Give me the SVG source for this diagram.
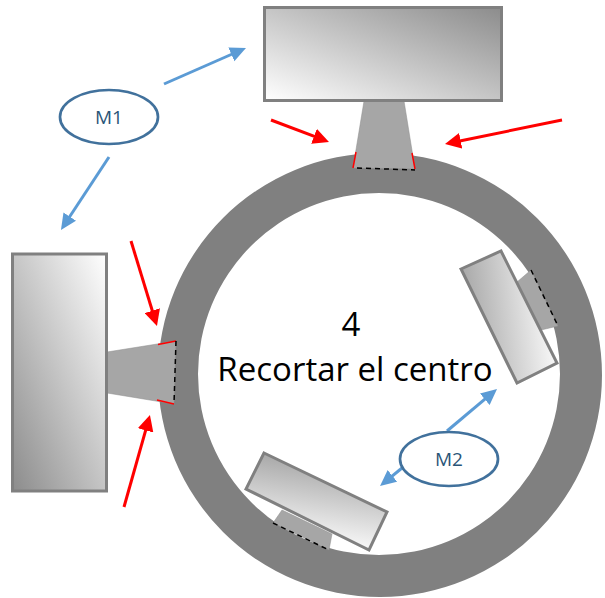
<svg xmlns="http://www.w3.org/2000/svg" width="605" height="598" viewBox="0 0 605 598">
<style>
.block{stroke:#808080;stroke-width:3}
.neck{fill:#a6a6a6;stroke:#8c8c8c;stroke-width:.5}
.cut{fill:none;stroke:#000;stroke-width:1.5;stroke-dasharray:5 4}
.edge{fill:none;stroke:#ff0000;stroke-width:1.5}
.red{fill:none;stroke:#ff0000;stroke-width:3;marker-end:url(#ra)}
.blue{fill:none;stroke:#5b9bd5;stroke-width:3;marker-end:url(#ba)}
.motor{fill:#fff;stroke:#41719c;stroke-width:2.700}
.ml{font-family:"Open Sans","Liberation Sans",sans-serif;font-size:19px;fill:#2a5578;text-anchor:middle}
.big{font-family:"Open Sans","Liberation Sans",sans-serif;font-size:33px;fill:#000;text-anchor:middle}
</style>
<defs>
<linearGradient id="gTop" x1="0" y1="1" x2="1" y2="0"><stop offset="0" stop-color="#fff"/><stop offset="1" stop-color="#8c8c8c"/></linearGradient>
<linearGradient id="gLeft" x1="0" y1="1" x2="1" y2="0"><stop offset="0" stop-color="#8c8c8c"/><stop offset="1" stop-color="#fff"/></linearGradient>
<linearGradient id="gRight" gradientUnits="userSpaceOnUse" x1="461" y1="269" x2="544.400" y2="259"><stop offset="0" stop-color="#a8a8a8"/><stop offset="1" stop-color="#f8f8f8"/></linearGradient>
<linearGradient id="gBottom" gradientUnits="userSpaceOnUse" x1="264" y1="453" x2="251.300" y2="531"><stop offset="0" stop-color="#a8a8a8"/><stop offset="1" stop-color="#f8f8f8"/></linearGradient>
<marker id="ra" markerUnits="userSpaceOnUse" markerWidth="17" markerHeight="16" refX="11" refY="8" orient="auto"><path d="M0,0L16,8L0,16z" fill="#ff0000"/></marker>
<marker id="ba" markerUnits="userSpaceOnUse" markerWidth="17" markerHeight="16" refX="11" refY="8" orient="auto"><path d="M0,0.5L16,8L0,15.5z" fill="#5b9bd5"/></marker>
</defs>
<g id="ring"><path fill="#808080" fill-rule="evenodd" d="M158,375a222,222 0 1,0 444,0a222,222 0 1,0 -444,0zM198,374a181,181 0 1,0 362,0a181,181 0 1,0 -362,0z"/></g>
<g id="block-top">
<polygon class="neck" points="364,101 404,101 415,169 353,168"/>
<path class="edge" d="M356,152L353,168M412,153L415,169"/>
<path class="cut" d="M357,168L415,170"/>
<rect class="block" x="264.500" y="7.500" width="237" height="93" fill="url(#gTop)"/>
</g>
<g id="block-left">
<polygon class="neck" points="107,352 176,341 174,404 107,393"/>
<path class="edge" d="M158,344.500L176,341M157,400L174,404"/>
<path class="cut" d="M176,341L174,404"/>
<rect class="block" x="12.500" y="254" width="94" height="237" fill="url(#gLeft)"/>
</g>
<g id="block-right">
<polygon class="neck" points="531,270 558,326 541,330 517,282"/>
<path class="cut" d="M531,270L558,326"/>
<polygon class="block" points="461,269 501,251 557,363 517,383" fill="url(#gRight)"/>
</g>
<g id="block-bottom">
<polygon class="neck" points="282,510 332,534 329,550 273,523"/>
<path class="cut" d="M273,523L329,550"/>
<polygon class="block" points="264,453 387,512 369,550 246,489" fill="url(#gBottom)"/>
</g>
<g id="connectors">
<path class="red" d="M271,120L324.300,140.200"/>
<path class="red" d="M562,120L449.900,143"/>
<path class="red" d="M131,241L155.500,321.200"/>
<path class="red" d="M124,507L148.600,419.800"/>
<path class="blue" d="M164,84L241.400,50"/>
<path class="blue" d="M109,157L63.700,225.800"/>
<path class="blue" d="M447,431L493.200,392.200"/>
<path class="blue" d="M402,468L383.900,482.800"/>
</g>
<g id="m1"><ellipse class="motor" cx="109" cy="117" rx="49" ry="27"/><text class="ml" x="109" y="124">M1</text></g>
<g id="m2"><ellipse class="motor" cx="449" cy="459" rx="49" ry="27"/><text class="ml" x="449" y="466">M2</text></g>
<g id="label"><text class="big" x="351" y="336">4</text><text class="big" x="355" y="380.500">Recortar el centro</text></g>
</svg>
